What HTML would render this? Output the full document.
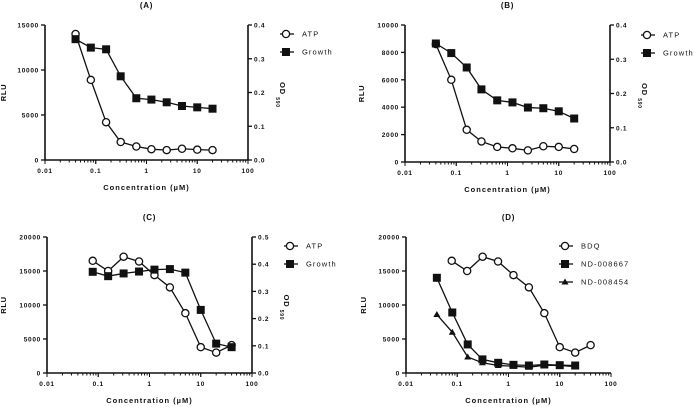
<!DOCTYPE html>
<html><head><meta charset="utf-8"><style>
body{margin:0;background:#fff}
svg{display:block;font-family:"Liberation Sans",Arial,sans-serif}
text{font-weight:bold;fill:#111}
text.leg{font-weight:normal}
</style></head><body>
<svg id="c" width="696" height="407"></svg>
<script>
const concA=[0.04,0.08,0.16,0.31,0.63,1.25,2.5,5,10,20];
const concC=[0.078,0.156,0.3125,0.625,1.25,2.5,5,10,20,40];
const atpA=[14000,8900,4200,2000,1500,1200,1100,1250,1150,1100];
const growthA=[0.358,0.333,0.328,0.248,0.183,0.179,0.171,0.160,0.156,0.152];
const atpB=[8600,6000,2350,1500,1100,1000,850,1150,1100,950];
const growthB=[0.346,0.318,0.276,0.212,0.180,0.174,0.159,0.157,0.148,0.127];
const atpC=[16500,15000,17100,16400,14400,12600,8800,3800,3000,4100];
const growthC=[0.372,0.356,0.366,0.373,0.38,0.382,0.369,0.232,0.108,0.095];
const bdq=[16500,15000,17100,16400,14400,12600,8800,3800,3000,4100];
const nd8667=[14000,8900,4200,2000,1500,1200,1100,1250,1150,1100];
const nd8454=[8600,6000,2350,1500,1100,1000,850,1150,1100,950];
const xTicks=["0.01","0.1","1","10","100"];
const ticksA=[0,5000,10000,15000], ticksB=[0,2000,4000,6000,8000,10000], ticksC=[0,5000,10000,15000,20000];
const rTicksA=["0.0","0.1","0.2","0.3","0.4"], rTicksC=["0.0","0.1","0.2","0.3","0.4","0.5"];

const svg=document.getElementById('c');
const NS='http://www.w3.org/2000/svg';
function mk(tag,a,p){const e=document.createElementNS(NS,tag);for(const k in a)e.setAttribute(k,a[k]);(p||svg).appendChild(e);return e;}
function txt(x,y,s,size,anchor,p,extra){const t=mk('text',Object.assign({x:x,y:y,'font-size':size,'text-anchor':anchor||'middle','letter-spacing':'0.7'},extra||{}),p);t.textContent=s;return t;}

function panel(o){
  const g=mk('g',{});
  
  
  const X=v=>o.x0+(Math.log10(v)+2)/4*(o.x1-o.x0);
  const Y=v=>o.y0-v/o.ymax*(o.y0-o.y1);
  const Y2=v=>o.y0-v/o.rmax*(o.y0-o.y1);
  const t=txt((o.x0+o.x1)/2,o.y1-17,'('+o.id+')',8,'middle',g);
  
  const ax=mk('path',{d:`M${o.x0},${o.y1}V${o.y0}H${o.x1}`,stroke:'#111','stroke-width':1.6,fill:'none'},g);
  
  o.yt.forEach(v=>{mk('line',{x1:o.x0-4,x2:o.x0,y1:Y(v),y2:Y(v),stroke:'#111','stroke-width':1.3},g);
    const l=txt(o.x0-6,Y(v)+2.5,String(v),6.5,'end',g);});
  for(let d=0;d<4;d++)for(let m=1;m<=10;m++){const v=Math.pow(10,d-2)*m;const xx=X(v);
    mk('line',{x1:xx,x2:xx,y1:o.y0,y2:o.y0+(m==1||m==10?4:2.5),stroke:'#111','stroke-width':1},g);}
  xTicks.forEach(s=>{const l=txt(X(parseFloat(s)),o.y0+13,s,6.5,'middle',g);});
  const xt=txt((o.x0+o.x1)/2,o.y0+30,'Concentration (µM)',7.5,'middle',g,{'letter-spacing':'1'});
  
  const yt=txt(0,0,'RLU',7.5,'middle',g,{transform:`translate(${o.yl},${(o.y0+o.y1)/2}) rotate(-90)`});
  
  if(o.rt){
    mk('line',{x1:o.x1,x2:o.x1,y1:o.y1,y2:o.y0,stroke:'#111','stroke-width':1.6},g);
    o.rt.forEach(s=>{const v=parseFloat(s);mk('line',{x1:o.x1,x2:o.x1+4,y1:Y2(v),y2:Y2(v),stroke:'#111','stroke-width':1.3},g);
      const l=txt(o.x1+6,Y2(v)+2.5,s,6.5,'start',g);});
    const rt=txt(0,0,'OD',7.5,'middle',g,{transform:`translate(${o.x1+32},${(o.y0+o.y1)/2-4}) rotate(90)`});
    
    txt(0,0,'590',5,'middle',g,{transform:`translate(${o.x1+28},${(o.y0+o.y1)/2+10}) rotate(90)`});
  }
  o.series.forEach((s,si)=>{
    const sy=s.right?Y2:Y;
    const pl=mk('polyline',{points:s.x.map((c,i)=>X(c)+','+sy(s.v[i])).join(' '),fill:'none',stroke:'#111','stroke-width':1.3},g);
    
    s.x.forEach((c,i)=>{const m=marker(s.m,X(c),sy(s.v[i]),g);});
    const ly=o.ly+si*18;
    const lg=mk('g',{},g);
    mk('line',{x1:o.lx,x2:o.lx+14,y1:ly,y2:ly,stroke:'#111','stroke-width':1.3},lg);
    marker(s.m,o.lx+6,ly,lg);
    txt(o.lx+22,ly+2.5,s.label,7.5,'start',lg,{'letter-spacing':'1.1','class':'leg'});
  });
}
function marker(t,x,y,p){
  if(t=='o')return mk('circle',{cx:x,cy:y,r:3.6,fill:'#fff',stroke:'#111','stroke-width':1.3},p);
  if(t=='s')return mk('rect',{x:x-4,y:y-4,width:8,height:8,fill:'#111'},p);
  return mk('path',{d:`M${x},${y-3.5}L${x+3.5},${y+2.5}L${x-3.5},${y+2.5}Z`,fill:'#111'},p);
}
panel({id:'A',x0:45,x1:248,y0:160,y1:25,ymax:15000,rmax:0.4,yt:ticksA,rt:rTicksA,yl:6,lx:280,ly:34,
  series:[{name:'atp',label:'ATP',x:concA,v:atpA,m:'o'},{name:'growth',label:'Growth',x:concA,v:growthA,m:'s',right:true}]});
panel({id:'B',x0:405,x1:610,y0:162,y1:25,ymax:10000,rmax:0.4,yt:ticksB,rt:rTicksA,yl:364,lx:641,ly:35,
  series:[{name:'atp',label:'ATP',x:concA,v:atpB,m:'o'},{name:'growth',label:'Growth',x:concA,v:growthB,m:'s',right:true}]});
panel({id:'C',x0:47,x1:252,y0:373,y1:237,ymax:20000,rmax:0.5,yt:ticksC,rt:rTicksC,yl:6,lx:284,ly:246,
  series:[{name:'atp',label:'ATP',x:concC,v:atpC,m:'o'},{name:'growth',label:'Growth',x:concC,v:growthC,m:'s',right:true}]});
panel({id:'D',x0:406,x1:611,y0:373,y1:237,ymax:20000,yt:ticksC,yl:366,lx:559,ly:246,
  series:[{name:'bdq',label:'BDQ',x:concC,v:bdq,m:'o'},{name:'nd-008667',label:'ND-008667',x:concA,v:nd8667,m:'s'},{name:'nd-008454',label:'ND-008454',x:concA,v:nd8454,m:'t'}]});
</script>
</body></html>
